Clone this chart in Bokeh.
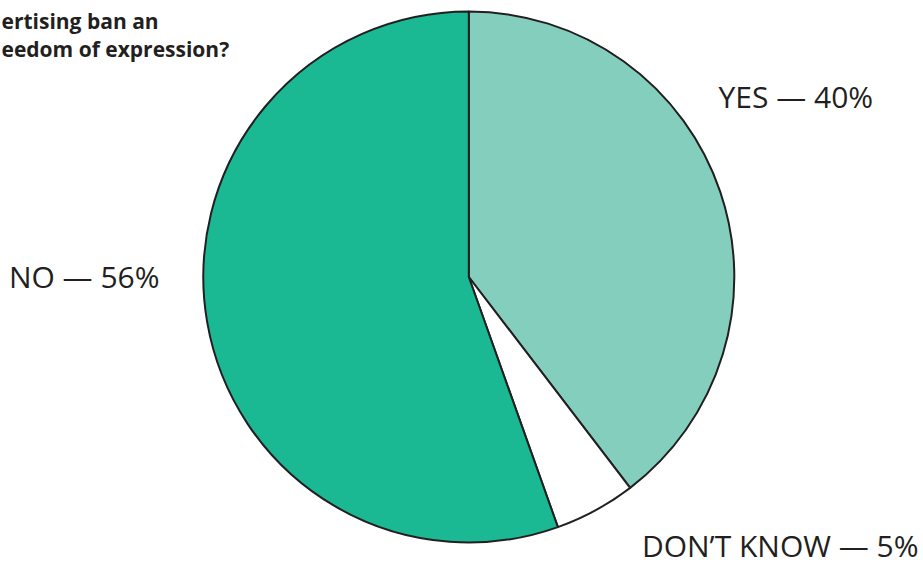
import math
from bokeh.plotting import figure
from bokeh.models import Range1d, ColumnDataSource
from bokeh.core.properties import value
from bokeh.embed import file_html
from bokeh.resources import INLINE

# ---- data ----
categories = ["YES", "DON'T KNOW", "NO"]
percents = [40, 5, 56]
colors = ["#84cebe", "#ffffff", "#1ab893"]
labels = ["YES — 40%", "DON’T KNOW — 5%", "NO — 56%"]
title_lines = ["ertising ban an", "eedom of expression?"]

W, H = 923, 565


def sx(x):
    return x


def sy(y):
    return H - y


p = figure(width=W, height=H, output_backend="svg", toolbar_location=None,
           x_range=Range1d(0, W), y_range=Range1d(0, H), min_border=0)
p.axis.visible = False
p.grid.visible = False
p.outline_line_color = None
p.background_fill_color = "white"
p.border_fill_color = "white"

cx, cy, r = sx(468.3), sy(276.5), 265.5
total = sum(percents)
starts, ends = [], []
acc = 0.0
for v in percents:
    a0 = math.pi / 2 - 2 * math.pi * acc / total
    acc += v
    a1 = math.pi / 2 - 2 * math.pi * acc / total
    starts.append(a0)
    ends.append(a1)

src = ColumnDataSource(dict(cat=categories, start=starts, end=ends, color=colors,
                            x=[cx] * 3, y=[cy] * 3))
p.wedge(x="x", y="y", radius=r, start_angle="start", end_angle="end",
        direction="clock", fill_color="color", line_color="#231f20",
        line_width=2, source=src)

font = value("Open Sans")
txt = "#231f20"
# slice labels
p.text(x=[sx(718)], y=[sy(96)], text=[labels[0]], text_font=font,
       text_font_size="30px", text_color=txt, text_align="left",
       text_baseline="alphabetic")
p.text(x=[sx(918)], y=[sy(545)], text=[labels[1]], text_font=font,
       text_font_size="30px", text_color=txt, text_align="right",
       text_baseline="alphabetic")
p.text(x=[sx(159)], y=[sy(276)], text=[labels[2]], text_font=font,
       text_font_size="30px", text_color=txt, text_align="right",
       text_baseline="alphabetic")

# title fragments (as visible in the reference)
p.text(x=[sx(1), sx(1)], y=[sy(20), sy(48)], text=title_lines,
       text_font=font, text_font_size="21px", text_font_style="bold",
       text_color=txt, text_align="left", text_baseline="alphabetic")

open("out.html", "w").write(file_html(p, INLINE))
